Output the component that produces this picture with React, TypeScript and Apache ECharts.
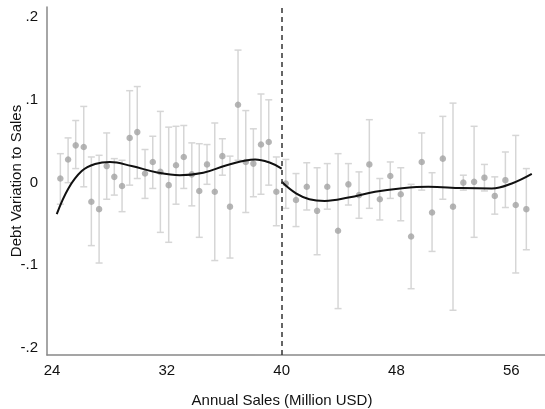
import React, { useEffect, useRef } from "react";
import * as echarts from "echarts";

// Binned points: x (sales), mean, lower CI, upper CI
const leftX = [24.58, 25.12, 25.65, 26.21, 26.74, 27.28, 27.81, 28.34, 28.88, 29.41, 29.94, 30.48, 31.02, 31.55, 32.13, 32.64, 33.18, 33.74, 34.26, 34.8, 35.34, 35.87, 36.4, 36.96, 37.5, 38.03, 38.56, 39.1, 39.63];
const leftY = [0.003, 0.026, 0.043, 0.041, -0.025, -0.034, 0.018, 0.005, -0.006, 0.052, 0.059, 0.009, 0.023, 0.011, -0.005, 0.019, 0.029, 0.008, -0.012, 0.02, -0.013, 0.03, -0.031, 0.092, 0.023, 0.021, 0.044, 0.047, -0.013];
const leftLo = [-0.028, -0.002, 0.015, -0.007, -0.078, -0.099, -0.022, -0.017, -0.037, -0.005, 0.003, -0.021, -0.009, -0.062, -0.074, -0.028, -0.009, -0.03, -0.068, -0.004, -0.096, 0.007, -0.093, 0.025, -0.038, -0.019, -0.016, -0.005, -0.054];
const leftHi = [0.033, 0.052, 0.073, 0.09, 0.029, 0.031, 0.058, 0.027, 0.025, 0.109, 0.114, 0.038, 0.054, 0.084, 0.065, 0.066, 0.067, 0.046, 0.045, 0.044, 0.07, 0.051, 0.03, 0.158, 0.085, 0.063, 0.105, 0.098, 0.029];

const rightX = [40.29, 41.0, 41.75, 42.47, 43.18, 43.93, 44.65, 45.39, 46.11, 46.84, 47.57, 48.3, 49.02, 49.76, 50.48, 51.23, 51.94, 52.66, 53.41, 54.13, 54.85, 55.59, 56.31, 57.05];
const rightY = [-0.003, -0.023, -0.007, -0.036, -0.007, -0.06, -0.004, -0.017, 0.02, -0.022, 0.006, -0.016, -0.067, 0.023, -0.038, 0.027, -0.031, -0.002, -0.001, 0.004, -0.018, 0.001, -0.029, -0.034];
const rightLo = [-0.033, -0.055, -0.035, -0.089, -0.034, -0.154, -0.029, -0.045, -0.033, -0.047, -0.021, -0.048, -0.13, -0.011, -0.085, -0.022, -0.156, -0.011, -0.068, -0.012, -0.04, -0.032, -0.111, -0.083];
const rightHi = [0.026, 0.009, 0.022, 0.016, 0.021, 0.033, 0.021, 0.011, 0.074, 0.003, 0.023, 0.016, -0.004, 0.058, 0.01, 0.078, 0.094, 0.007, 0.066, 0.02, 0.005, 0.035, 0.055, 0.015];

// Fitted curves
const fitLeftX = [24.33, 25.14, 26.07, 27.0, 28.04, 29.55, 31.4, 32.9, 34.54, 36.17, 38.15, 39.2, 40.0];
const fitLeftY = [-0.04, -0.009, 0.012, 0.0205, 0.023, 0.018, 0.01, 0.007, 0.01, 0.019, 0.026, 0.022, 0.015];
const fitRightX = [40.0, 41.0, 41.93, 43.0, 44.65, 46.51, 48.25, 50.22, 52.55, 54.64, 56.04, 57.43];
const fitRightY = [-0.001, -0.015, -0.022, -0.024, -0.02, -0.013, -0.009, -0.007, -0.0085, -0.009, -0.003, 0.0085];

const xTicks = [24, 32, 40, 48, 56];
const yTicks = [-0.2, -0.1, 0, 0.1, 0.2];
const cutoff = 40;

const FONT = "'Liberation Sans', Arial, sans-serif";

export default function App() {
  const ref = useRef<HTMLDivElement>(null);
  useEffect(() => {
    if (!ref.current) return;
    const chart = echarts.init(ref.current, undefined, { renderer: "svg" });
    const allX = [...leftX, ...rightX];
    const allY = [...leftY, ...rightY];
    const allLo = [...leftLo, ...rightLo];
    const allHi = [...leftHi, ...rightHi];
    const points = allX.map((x, i) => [x, allY[i]]);
    const bars = allX.map((x, i) => [x, allLo[i], allHi[i]]);
    const fitL = fitLeftX.map((x, i) => [x, fitLeftY[i]]);
    const fitR = fitRightX.map((x, i) => [x, fitRightY[i]]);

    chart.setOption({
      animation: false,
      textStyle: { fontFamily: FONT },
      grid: { left: 47, right: 0, top: 7, bottom: 54, containLabel: false, outerBoundsMode: "none" },
      xAxis: {
        type: "value",
        min: 23.65,
        max: 58.35,
        name: "Annual Sales (Million USD)",
        nameLocation: "middle",
        nameGap: 37,
        nameMoveOverlap: false,
        nameTextStyle: { fontSize: 15, color: "#111", fontFamily: FONT, padding: [0, 28, 0, 0] },
        axisLine: { show: true, onZero: false, lineStyle: { color: "#888", width: 1.5 } },
        axisTick: { show: false },
        splitLine: { show: false },
        axisLabel: {
          customValues: xTicks,
          fontSize: 15,
          color: "#111",
          margin: 7,
          fontFamily: FONT,
          showMinLabel: true,
          showMaxLabel: true,
        },
      },
      yAxis: {
        type: "value",
        min: -0.21,
        max: 0.21,
        name: "Debt Variation to Sales",
        nameLocation: "middle",
        nameGap: 24,
        nameMoveOverlap: false,
        nameTextStyle: { fontSize: 15, color: "#111", fontFamily: FONT },
        axisLine: { show: true, onZero: false, lineStyle: { color: "#888", width: 1.5 } },
        axisTick: { show: false },
        splitLine: { show: false },
        axisLabel: {
          customValues: yTicks,
          fontSize: 15,
          color: "#111",
          margin: 9,
          fontFamily: FONT,
          formatter: (v: number) => {
            const r = Math.round(v * 10) / 10;
            if (r === 0) return "0";
            return (r < 0 ? "-" : "") + String(Math.abs(r)).replace(/^0/, "");
          },
        },
      },
      series: [
        {
          type: "custom",
          data: bars,
          z: 1,
          renderItem: (params: any, api: any) => {
            const x = api.value(0);
            const lo = api.coord([x, api.value(1)]);
            const hi = api.coord([x, api.value(2)]);
            const w = 3.5;
            const style = { stroke: "#d6d6d6", lineWidth: 1.5 };
            return {
              type: "group",
              children: [
                { type: "line", shape: { x1: lo[0], y1: lo[1], x2: hi[0], y2: hi[1] }, style },
                { type: "line", shape: { x1: hi[0] - w, y1: hi[1], x2: hi[0] + w, y2: hi[1] }, style },
                { type: "line", shape: { x1: lo[0] - w, y1: lo[1], x2: lo[0] + w, y2: lo[1] }, style },
              ],
            };
          },
        },
        {
          type: "scatter",
          data: points,
          symbolSize: 6.5,
          itemStyle: { color: "#a3a3a3" },
          z: 2,
        },
        {
          type: "line",
          data: fitL,
          smooth: 0.4,
          showSymbol: false,
          lineStyle: { color: "#111", width: 2 },
          z: 3,
          markLine: {
            silent: true,
            symbol: "none",
            label: { show: false },
            lineStyle: { type: [5, 4], color: "#333", width: 1.5 },
            data: [{ xAxis: cutoff }],
          },
        },
        {
          type: "line",
          data: fitR,
          smooth: 0.4,
          showSymbol: false,
          lineStyle: { color: "#111", width: 2 },
          z: 3,
        },
      ],
    });
    return () => chart.dispose();
  }, []);
  return (
    <div
      ref={ref}
      style={{ position: "fixed", left: 0, top: 0, width: 545, height: 409 }}
    />
  );
}
